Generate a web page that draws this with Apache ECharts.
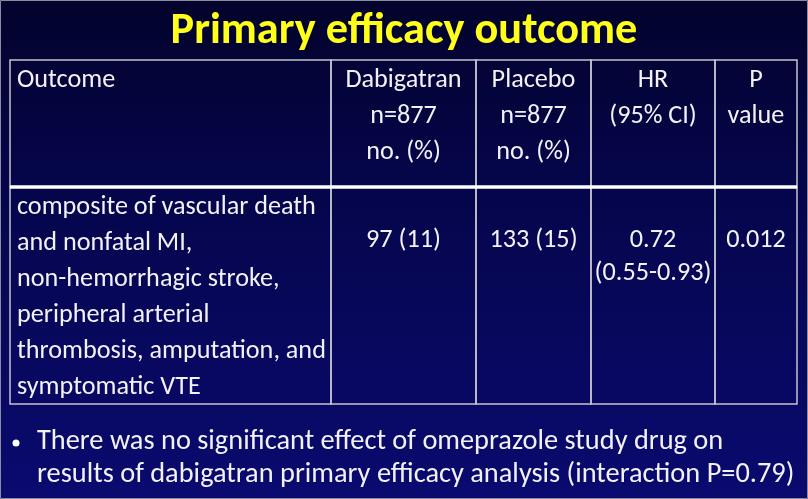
<!DOCTYPE html>
<html>
<head>
<meta charset="utf-8">
<script src="https://cdn.jsdelivr.net/npm/echarts@6/dist/echarts.min.js"></script>
<style>html,body{margin:0;padding:0;background:#03032f;}#chart{width:808px;height:499px;}</style>
</head>
<body>
<div id="chart"></div>
<script>
// ---- content ----
var titleText = "Primary efficacy outcome";
var headerCells = [
  ["Outcome"],
  ["Dabigatran", "n=877", "no. (%)"],
  ["Placebo", "n=877", "no. (%)"],
  ["HR", "(95% CI)"],
  ["P", "value"]
];
var outcomeLines = [
  "composite of vascular death",
  "and nonfatal MI,",
  "non-hemorrhagic stroke,",
  "peripheral arterial",
  "thrombosis, amputation, and",
  "symptomatic VTE"
];
var dabigatranValue = ["97 (11)"];
var placeboValue = ["133 (15)"];
var hrValue = ["0.72", "(0.55-0.93)"];
var pValue = ["0.012"];
var noteLines = [
  "There was no significant effect of omeprazole study drug on",
  "results of dabigatran primary efficacy analysis (interaction P=0.79)"
];

// ---- layout ----
var colEdges = [10, 331, 476, 591, 715, 797];
var rowEdges = [60, 187, 404];
var FONT = "Carlito, Lato, 'Open Sans', sans-serif";

function fitSize(text, weight, target) {
  var c = document.createElement('canvas').getContext('2d');
  c.font = weight + " 100px " + FONT;
  return 100 * target / c.measureText(text).width;
}
var noteSize = fitSize(noteLines[1], "normal", 758);
var tableSize = (fitSize(outcomeLines[0], "normal", 298) + fitSize(outcomeLines[4], "normal", 308) +
                 fitSize(headerCells[1][0], "normal", 117)) / 3;
var titleSize = fitSize(titleText, "bold", 467);

var bodyCells = [outcomeLines, dabigatranValue, placeboValue, hrValue, pValue];
var cellData = [];
headerCells.forEach(function (c, i) { cellData.push([i, 0]); });
bodyCells.forEach(function (c, i) { cellData.push([i, 1]); });

function renderCell(params, api) {
  var col = api.value(0), row = api.value(1);
  var p0 = api.coord([colEdges[col], rowEdges[row]]);
  var p1 = api.coord([colEdges[col + 1], rowEdges[row + 1]]);
  var children = [{
    type: 'rect',
    shape: { x: p0[0], y: p0[1], width: p1[0] - p0[0], height: p1[1] - p0[1] },
    style: { fill: 'none', stroke: '#c4c4cc', lineWidth: 1.5 }
  }];
  var lines = row === 0 ? headerCells[col] : bodyCells[col];
  var firstY, step;
  if (row === 0) { firstY = 80; step = 36; }
  else if (col === 0) { firstY = 207; step = 36; }
  else { firstY = 240; step = 33; }
  lines.forEach(function (t, k) {
    var x = col === 0 ? 17 : (colEdges[col] + colEdges[col + 1]) / 2;
    var pt = api.coord([x, firstY + k * step]);
    children.push({
      type: 'text',
      style: {
        text: t, x: pt[0], y: pt[1],
        align: col === 0 ? 'left' : 'center', verticalAlign: 'middle',
        fill: '#f2f2f6', fontSize: tableSize, fontFamily: FONT
      }
    });
  });
  return { type: 'group', children: children };
}

function renderSeparator(params, api) {
  var a = api.coord([colEdges[0], rowEdges[1]]);
  var b = api.coord([colEdges[colEdges.length - 1], rowEdges[1]]);
  return {
    type: 'line',
    shape: { x1: a[0], y1: a[1], x2: b[0], y2: b[1] },
    style: { stroke: '#ffffff', lineWidth: 3.5 }
  };
}

var chart = echarts.init(document.getElementById('chart'), null, { renderer: 'canvas' });
chart.setOption({
  animation: false,
  backgroundColor: new echarts.graphic.LinearGradient(0, 0, 0, 1, [
    { offset: 0, color: '#03032c' },
    { offset: 0.35, color: '#05054a' },
    { offset: 1, color: '#0a0a70' }
  ]),
  grid: { left: 0, right: 0, top: 0, bottom: 0 },
  xAxis: { type: 'value', min: 0, max: 808, show: false },
  yAxis: { type: 'value', min: 0, max: 499, inverse: true, show: false },
  series: [
    { type: 'custom', renderItem: renderCell, data: cellData, silent: true },
    { type: 'custom', renderItem: renderSeparator, data: [[0, 0]], silent: true, z: 3 }
  ],
  graphic: [
    {
      type: 'rect', shape: { x: 0.5, y: 0.5, width: 807, height: 498 },
      style: { fill: 'none', stroke: '#8a8aa0', lineWidth: 1 }
    },
    {
      type: 'text', x: 404, y: 32,
      style: {
        text: titleText, align: 'center', verticalAlign: 'middle',
        fill: '#ffff1a', fontSize: titleSize, fontWeight: 'bold', fontFamily: FONT,
        shadowColor: 'rgba(0,0,0,0.6)', shadowOffsetX: 1, shadowOffsetY: 1, shadowBlur: 1
      }
    },
    {
      type: 'circle', shape: { cx: 16, cy: 443, r: 3.5 }, style: { fill: '#ffffff' }
    },
    {
      type: 'text', x: 37, y: 442,
      style: { text: noteLines[0], align: 'left', verticalAlign: 'middle', fill: '#f2f2f6', fontSize: noteSize, fontFamily: FONT }
    },
    {
      type: 'text', x: 37, y: 475,
      style: { text: noteLines[1], align: 'left', verticalAlign: 'middle', fill: '#f2f2f6', fontSize: noteSize, fontFamily: FONT }
    }
  ]
});
</script>
</body>
</html>
